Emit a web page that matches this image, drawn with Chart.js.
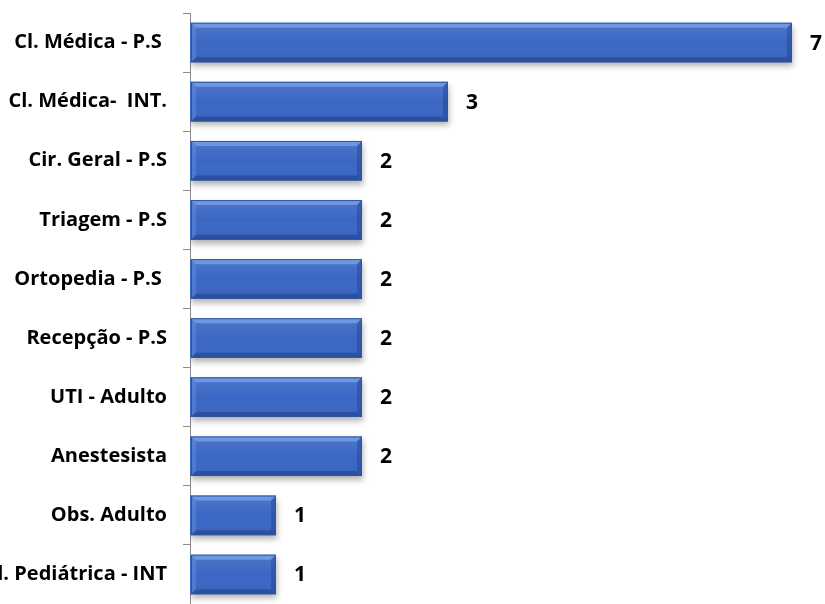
<!DOCTYPE html>
<html>
<head>
<meta charset="utf-8">
<script src="https://cdn.jsdelivr.net/npm/chart.js@4"></script>
<style>
  html, body { margin: 0; padding: 0; background: #fff; }
  #wrap { width: 825px; height: 604px; position: relative; }
</style>
</head>
<body>
<div id="wrap"><canvas id="chart"></canvas></div>
<script>
// data
const categories = [
  "Cl. Médica - P.S ", "Cl. Médica-  INT.", "Cir. Geral - P.S", "Triagem - P.S",
  "Ortopedia - P.S ", "Recepção - P.S", "UTI - Adulto", "Anestesista",
  "Obs. Adulto", "Cl. Pediátrica - INT"
];
const counts = [7, 3, 2, 2, 2, 2, 2, 2, 1, 1];

const AXIS_X = 190;
const FONT = "'Open Sans', Lato, sans-serif";

// bevelled blue bars with a soft drop shadow
const bevel = {
  id: "bevel",
  beforeDatasetsDraw(chart) {
    const ctx = chart.ctx;
    ctx.save();
    ctx.shadowColor = "rgba(0,0,0,0.3)";
    ctx.shadowBlur = 6;
    ctx.shadowOffsetX = 1;
    ctx.shadowOffsetY = 4;
  },
  afterDatasetsDraw(chart) {
    const ctx = chart.ctx;
    ctx.restore();
    const meta = chart.getDatasetMeta(0);
    const b = 5;
    meta.data.forEach((bar) => {
      const x0 = bar.base + 1, x1 = bar.x;
      const y0 = bar.y - bar.height / 2, y1 = bar.y + bar.height / 2;
      const poly = (pts, color) => {
        ctx.beginPath();
        ctx.moveTo(pts[0][0], pts[0][1]);
        for (let i = 1; i < pts.length; i++) ctx.lineTo(pts[i][0], pts[i][1]);
        ctx.closePath();
        ctx.fillStyle = color;
        ctx.fill();
      };
      ctx.save();
      const g = ctx.createLinearGradient(0, y0, 0, y1);
      g.addColorStop(0, "rgba(255,255,255,0.10)");
      g.addColorStop(0.5, "rgba(255,255,255,0)");
      g.addColorStop(1, "rgba(0,0,40,0.06)");
      ctx.fillStyle = g;
      ctx.fillRect(x0, y0, x1 - x0, y1 - y0);
      poly([[x0, y0], [x1, y0], [x1 - b, y0 + b], [x0 + b, y0 + b]], "rgba(140,180,245,0.55)");
      poly([[x0, y0], [x0 + b, y0 + b], [x0 + b, y1 - b], [x0, y1]], "rgba(110,150,225,0.4)");
      poly([[x0, y1], [x0 + b, y1 - b], [x1 - b, y1 - b], [x1, y1]], "rgba(20,45,110,0.35)");
      poly([[x1, y0], [x1, y1], [x1 - b, y1 - b], [x1 - b, y0 + b]], "rgba(20,45,110,0.3)");
      ctx.strokeStyle = "#2f55a0";
      ctx.lineWidth = 1;
      ctx.strokeRect(x0 + 0.5, y0 + 0.5, x1 - x0 - 1, y1 - y0 - 1);
      ctx.restore();
    });
  },
};

// bold value labels right of each bar
const valueLabels = {
  id: "valueLabels",
  afterDatasetsDraw(chart) {
    const ctx = chart.ctx;
    const meta = chart.getDatasetMeta(0);
    ctx.save();
    ctx.font = "bold 21px " + FONT;
    ctx.fillStyle = "#000";
    ctx.textAlign = "left";
    ctx.textBaseline = "middle";
    meta.data.forEach((bar, i) => {
      ctx.fillText(String(counts[i]), bar.x + 18, bar.y + 1);
    });
    ctx.restore();
  },
};

new Chart(document.getElementById("chart"), {
  type: "bar",
  data: {
    labels: categories,
    datasets: [{
      data: counts,
      backgroundColor: "#3b67c4",
      borderWidth: 0,
      categoryPercentage: 1,
      barPercentage: 0.67,
    }],
  },
  options: {
    indexAxis: "y",
    responsive: true,
    maintainAspectRatio: false,
    animation: false,
    layout: { padding: { top: 13, bottom: -1, left: 0, right: 0 } },
    plugins: { legend: { display: false }, tooltip: { enabled: false } },
    scales: {
      x: { display: false, min: 0, max: (825 - AXIS_X) / 86 },
      y: {
        afterFit(scale) {
          scale.width = AXIS_X;
          scale.paddingTop = 0;
          scale.paddingBottom = 0;
        },
        border: { display: true, color: "#8c8c8c", width: 1 },
        grid: { drawOnChartArea: false, drawTicks: true, tickLength: 7, color: "#8c8c8c", offset: true },
        ticks: {
          color: "#000",
          padding: 16,
          font: { family: FONT, size: 20, weight: "bold" },
        },
      },
    },
  },
  plugins: [bevel, valueLabels],
});
</script>
</body>
</html>
